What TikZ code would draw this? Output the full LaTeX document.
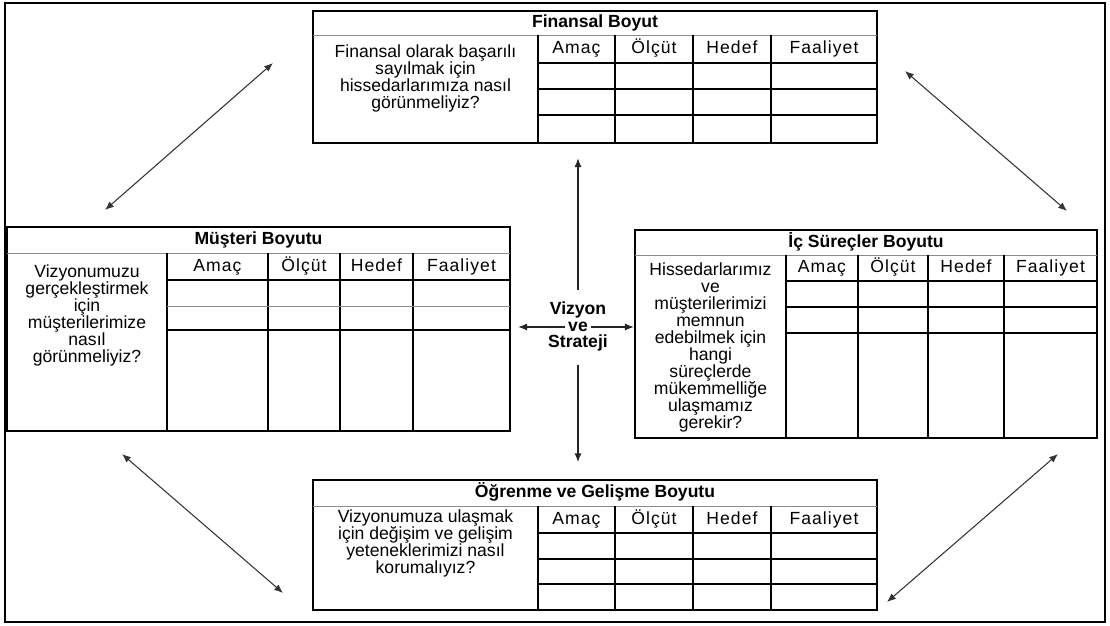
\documentclass[tikz,border=0pt]{standalone}
\usepackage{fontspec}
\setmainfont{Liberation Sans}
\newfontfamily\headface{Liberation Sans}[LetterSpace=6]
\usetikzlibrary{arrows.meta,fit}

\begin{document}
\begin{tikzpicture}[x=0.02cm,y=-0.02cm,
	panel/.style={draw, line width=1.4pt, inner sep=0pt},
	rule/.style={line width=0.8pt},
	faint/.style={line width=0.5pt, black!45},
	title/.style={font=\fontsize{10}{11}\selectfont\bfseries, inner sep=0pt, text height=7.5pt, text depth=2.2pt},
	cell/.style={font=\fontsize{10}{9.7}\selectfont, align=center, inner sep=0pt},
	head/.style={font=\fontsize{10}{11}\selectfont\headface, inner sep=0pt, text height=7.5pt, text depth=2.2pt},
	core/.style={font=\fontsize{10}{11}\selectfont\bfseries, inner sep=1.5pt},
	tip/.style={-{Latex[length=5pt,width=4pt]}, line width=0.6pt, black!85},
	link/.style={{Latex[length=5pt,width=4pt]}-{Latex[length=5pt,width=4pt]}, line width=0.6pt, black!80}]
	%\draw[help lines, step=50] (0,0) grid (1110,626);
	\useasboundingbox (0,0) rectangle (1110,626);
	\draw[line width=0.9pt] (5,3) rectangle (1105,622);

	% Finansal Boyut
	\node[panel, fit={(313,11) (877,143)}] (finans) {};
	\draw[faint] (313,35) -- (877,35);
	\foreach \x in {538,615,693,771} \draw[rule] (\x,35) -- (\x,143);
	\foreach \y in {63,89,115} \draw[rule] (538,\y) -- (877,\y);
	\node[title] (finansT) at (595,23) {Finansal Boyut};
	\foreach \x/\t in {576.5/Amaç, 654/Ölçüt, 732/Hedef, 824/Faaliyet}
		\node[head] at (\x,49) {\t};
	\node[cell, anchor=north] (finansQ) at (425.5,44) {Finansal olarak başarılı\\sayılmak için\\hissedarlarımıza nasıl\\görünmeliyiz?};

	% Müşteri Boyutu
	\node[panel, fit={(7,227) (510,431)}] (musteri) {};
	\draw[faint] (7,253) -- (510,253);
	\foreach \x in {167,268,340,413} \draw[rule] (\x,253) -- (\x,431);
	\draw[rule] (167,280) -- (510,280);
	\draw[faint] (167,306) -- (510,306);
	\draw[rule] (167,330) -- (510,330);
	\node[title] (musteriT) at (258.5,240) {Müşteri Boyutu};
	\foreach \x/\t in {217.5/Amaç, 304/Ölçüt, 376.5/Hedef, 461.5/Faaliyet}
		\node[head] at (\x,266.5) {\t};
	\node[cell, anchor=north] (musteriQ) at (87,264) {Vizyonumuzu\\gerçekleştirmek\\için\\müşterilerimize\\nasıl\\görünmeliyiz?};

	% İç Süreçler Boyutu
	\node[panel, fit={(635,230) (1097,438)}] (surec) {};
	\draw[faint] (635,255) -- (1097,255);
	\foreach \x in {786,858,928,1004} \draw[rule] (\x,255) -- (\x,438);
	\foreach \y in {281,307,333} \draw[rule] (786,\y) -- (1097,\y);
	\node[title] (surecT) at (866,242.5) {İç Süreçler Boyutu};
	\foreach \x/\t in {822/Amaç, 893/Ölçüt, 966/Hedef, 1050.5/Faaliyet}
		\node[head] at (\x,268) {\t};
	\node[cell, anchor=north] (surecQ) at (710.5,262) {Hissedarlarımız\\ve\\müşterilerimizi\\memnun\\edebilmek için\\hangi\\süreçlerde\\mükemmelliğe\\ulaşmamız\\gerekir?};

	% Öğrenme ve Gelişme Boyutu
	\node[panel, fit={(313,480) (877,610)}] (ogrenme) {};
	\draw[faint] (313,506) -- (877,506);
	\foreach \x in {538,615,693,771} \draw[rule] (\x,506) -- (\x,610);
	\foreach \y in {533,559,584} \draw[rule] (538,\y) -- (877,\y);
	\node[title] (ogrenmeT) at (595,493) {Öğrenme ve Gelişme Boyutu};
	\foreach \x/\t in {576.5/Amaç, 654/Ölçüt, 732/Hedef, 824/Faaliyet}
		\node[head] at (\x,519.5) {\t};
	\node[cell, anchor=north] (ogrenmeQ) at (425.5,509) {Vizyonumuza ulaşmak\\için değişim ve gelişim\\yeteneklerimizi nasıl\\korumalıyız?};

	% Vizyon ve Strateji
	\node[core] (vizyon) at (578,310) {Vizyon};
	\node[core] (ve) at (578,327) {ve};
	\node[core] (strateji) at (578,343) {Strateji};
	\draw[tip, shorten <=5pt, shorten >=8pt] (vizyon.north) -- (vizyon.north |- finans.south);
	\draw[tip, shorten <=6pt, shorten >=9.5pt] (strateji.south) -- (strateji.south |- ogrenme.north);
	\draw[tip, shorten >=4pt] (ve.west) -- (ve.west -| musteri.east);
	\draw[tip] (ve.east) -- (ve.east -| surec.west);

	% diagonal links
	\coordinate (fmA) at (273,63);
	\coordinate (fmB) at (105,210);
	\coordinate (fsA) at (905,71);
	\coordinate (fsB) at (1067,211);
	\coordinate (moA) at (122,454);
	\coordinate (moB) at (283,593);
	\coordinate (soA) at (1058,454);
	\coordinate (soB) at (887,602);
	\draw[link] (fmA) -- (fmB);
	\draw[link] (fsA) -- (fsB);
	\draw[link] (moA) -- (moB);
	\draw[link] (soA) -- (soB);
\end{tikzpicture}
\end{document}
